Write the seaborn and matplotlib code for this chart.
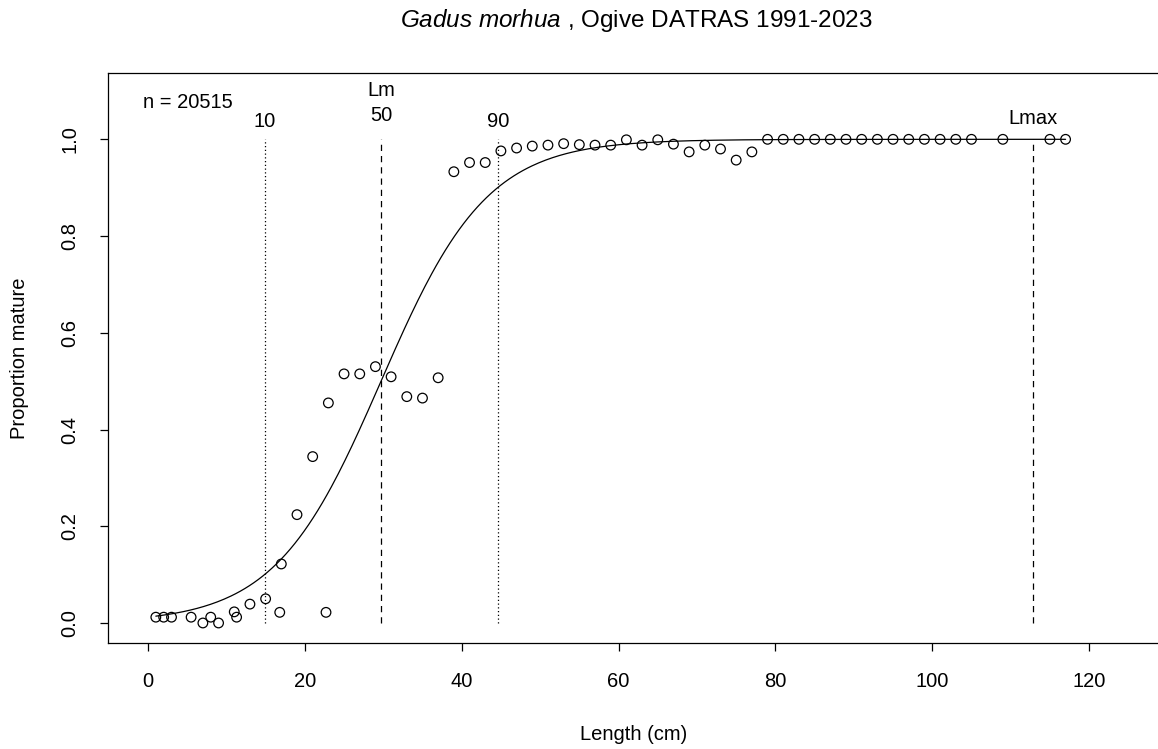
import numpy as np
import pandas as pd
import matplotlib
matplotlib.use("Agg")
import matplotlib.pyplot as plt
import seaborn as sns

# ---- data ----
length_cm = [1, 2, 3, 5.5, 7, 8, 9, 11, 11.3, 13, 15, 16.8, 17, 19, 21, 22.7, 23,
             25, 27, 29, 31, 33, 35, 37, 39, 41, 43, 45, 47, 49, 51, 53, 55, 57,
             59, 61, 63, 65, 67, 69, 71, 73, 75, 77, 79, 81, 83, 85, 87, 89, 91,
             93, 95, 97, 99, 101, 103, 105, 109, 115, 117]
prop_mature = [0.012, 0.012, 0.012, 0.012, 0.0, 0.012, 0.0, 0.023, 0.012, 0.039,
               0.050, 0.022, 0.122, 0.224, 0.344, 0.022, 0.455,
               0.515, 0.515, 0.530, 0.509, 0.468, 0.465, 0.507, 0.933, 0.952,
               0.952, 0.976, 0.982, 0.986, 0.988, 0.991, 0.989, 0.988, 0.988,
               0.999, 0.988, 0.999, 0.990, 0.974, 0.988, 0.980, 0.957, 0.974,
               1.0, 1.0, 1.0, 1.0, 1.0, 1.0, 1.0, 1.0, 1.0, 1.0, 1.0, 1.0, 1.0,
               1.0, 1.0, 1.0, 1.0]

# fitted ogive reference lengths (cm)
L10 = 14.92
L50 = 29.72
L90 = 44.64
Lmax = 112.84
n_obs = 20515

x_ticks = [0, 20, 40, 60, 80, 100, 120]
y_ticks = [0.0, 0.2, 0.4, 0.6, 0.8, 1.0]

# ---- style ----
sns.set_theme(style="white")
plt.rcParams['font.family'] = ['Liberation Sans', 'DejaVu Sans']
plt.rcParams['mathtext.fontset'] = 'custom'
plt.rcParams['mathtext.rm'] = 'Liberation Sans'
plt.rcParams['mathtext.it'] = 'Liberation Sans:italic'
for key in ['text.color', 'axes.labelcolor', 'xtick.color', 'ytick.color']:
    plt.rcParams[key] = 'black'

fig = plt.figure(figsize=(11.58, 7.49), dpi=100)
ax = fig.add_axes([108.3 / 1158, 1 - 643.3 / 749, (1160.5 - 108.3) / 1158, (643.3 - 73.3) / 749])

df = pd.DataFrame({"Length": length_cm, "Prop": prop_mature})

# logistic ogive from the fitted L50 and slope
k = 2 * np.log(9) / (L90 - L10)
xs = np.linspace(min(length_cm), max(length_cm), 400)
curve = pd.DataFrame({"Length": xs, "Prop": 1 / (1 + np.exp(-k * (xs - L50)))})

sns.lineplot(data=curve, x="Length", y="Prop", ax=ax, color="black", lw=0.9)
sns.scatterplot(data=df, x="Length", y="Prop", ax=ax, marker="o", s=48,
                facecolor="none", edgecolor="black", linewidth=0.9, zorder=3)

# reference lines
ax.plot([L10, L10], [0, 1], color="black", lw=0.9, ls=(0, (1, 2)))
ax.plot([L50, L50], [0, 1], color="black", lw=0.9, ls=(0, (5, 4)))
ax.plot([L90, L90], [0, 1], color="black", lw=0.9, ls=(0, (1, 2)))
ax.plot([Lmax, Lmax], [0, 1], color="black", lw=0.9, ls=(0, (5, 4)))

fs = 14.5
ax.text(L10, 1.036, "10", ha="center", va="center", fontsize=fs)
ax.text(L50, 1.050, "50", ha="center", va="center", fontsize=fs)
ax.text(L50, 1.100, "Lm", ha="center", va="center", fontsize=fs)
ax.text(L90, 1.036, "90", ha="center", va="center", fontsize=fs)
ax.text(Lmax, 1.044, "Lmax", ha="center", va="center", fontsize=fs)
ax.text(-0.6, 1.077, f"n = {n_obs}", ha="left", va="center", fontsize=fs)

ax.set_xlim(-5.06, (1160.5 - 148.2) / 7.841)
ax.set_ylim(-0.042, 1.1365)
ax.set_xticks(x_ticks)
ax.set_yticks(y_ticks)
ax.set_xticklabels([str(t) for t in x_ticks], fontsize=fs)
ax.set_yticklabels([f"{t:.1f}" for t in y_ticks], fontsize=fs, rotation=90, va="center")
ax.tick_params(axis="both", direction="out", length=6, width=0.9, color="black",
               bottom=True, left=True)
ax.tick_params(axis="x", pad=15)
ax.tick_params(axis="y", pad=15)
for s in ax.spines.values():
    s.set_color("black")
    s.set_linewidth(0.9)
ax.set_xlabel("")
ax.set_ylabel("")

fig.text(634 / 1158, 1 - 735 / 749, "Length (cm)", ha="center", va="center", fontsize=fs)
fig.text(20 / 1158, 1 - 358 / 749, "Proportion mature", ha="center", va="center",
         rotation=90, fontsize=fs)
fig.text(636 / 1158, 1 - 20 / 749, r"$\mathit{Gadus\ morhua}$ , Ogive DATRAS 1991-2023",
         ha="center", va="center", fontsize=17.5)

fig.savefig("out.png", dpi=100)
